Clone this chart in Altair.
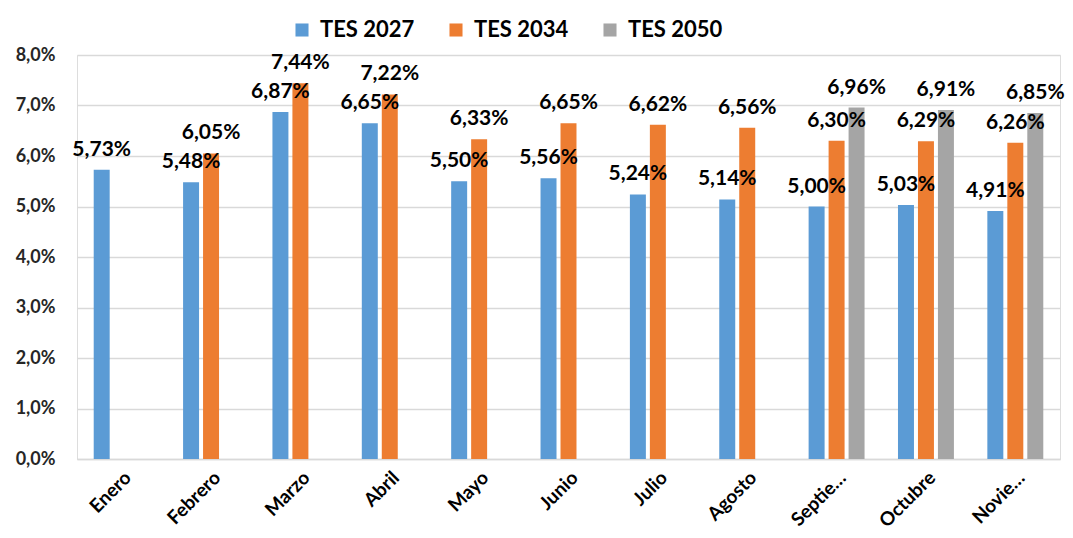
import altair as alt
import pandas as pd

months = ["Enero", "Febrero", "Marzo", "Abril", "Mayo", "Junio", "Julio",
          "Agosto", "Septie…", "Octubre", "Novie…"]
series = ["TES 2027", "TES 2034", "TES 2050"]
tes2027 = [5.73, 5.48, 6.87, 6.65, 5.50, 5.56, 5.24, 5.14, 5.00, 5.03, 4.91]
tes2034 = [None, 6.05, 7.44, 7.22, 6.33, 6.65, 6.62, 6.56, 6.30, 6.29, 6.26]
tes2050 = [None, None, None, None, None, None, None, None, 6.96, 6.91, 6.85]
colors = ["#5B9BD5", "#ED7D31", "#A5A5A5"]

rows = []
for s, vals in zip(series, [tes2027, tes2034, tes2050]):
    for m, v in zip(months, vals):
        if v is not None:
            rows.append({"Mes": m, "Serie": s, "Valor": v / 100.0,
                         "Etiqueta": f"{v:.2f}%".replace(".", ",")})
df = pd.DataFrame(rows)

FONT = "Lato"

x_enc = alt.X("Mes:N", sort=months,
              scale=alt.Scale(domain=months, paddingInner=0.374, paddingOuter=0.187),
              axis=alt.Axis(title=None, labelAngle=-45, labelFontSize=19,
                            labelFontWeight="bold", labelColor="#000000",
                            labelFont=FONT, labelPadding=9, ticks=False,
                            domainColor="#D9D9D9", domainWidth=1.5, labelLimit=200))
xo_enc = alt.XOffset("Serie:N", sort=series,
                     scale=alt.Scale(domain=series, paddingInner=0.2, paddingOuter=0))

base = alt.Chart(df).encode(x=x_enc, xOffset=xo_enc)

bars = base.mark_bar().encode(
    y=alt.Y("Valor:Q", scale=alt.Scale(domain=[0, 0.08], nice=False),
            axis=alt.Axis(title=None, values=[0, 0.01, 0.02, 0.03, 0.04, 0.05, 0.06, 0.07, 0.08],
                          labelExpr="replace(format(datum.value, '.1%'), '.', ',')",
                          labelFontSize=18, labelFontWeight="bold", labelColor="#262626",
                          labelFont=FONT, labelPadding=22, ticks=False, domain=False,
                          gridColor="#D9D9D9", gridWidth=1.5)),
    color=alt.Color("Serie:N", sort=series,
                    scale=alt.Scale(domain=series, range=colors),
                    legend=alt.Legend(title=None, orient="none", legendX=214, legendY=-36,
                                      direction="horizontal", symbolType="square",
                                      symbolSize=170, symbolStrokeWidth=0,
                                      labelFontSize=22, labelFontWeight="bold",
                                      labelFont=FONT, labelColor="#000000",
                                      columnPadding=30, labelOffset=7)),
)

labels = base.mark_text(dy=-14, baseline="alphabetic", fontSize=21, fontWeight="bold",
                        font=FONT, color="#000000").encode(
    y=alt.Y("Valor:Q"),
    text="Etiqueta:N",
)

chart = (bars + labels).properties(
    width=983, height=404,
    autosize=alt.AutoSizeParams(type="none"),
    padding={"left": 69, "top": 47, "right": 5, "bottom": 71},
).configure_view(stroke=None).configure(background="white")

chart.save("out.html", embed_options={"renderer": "svg", "actions": False})
